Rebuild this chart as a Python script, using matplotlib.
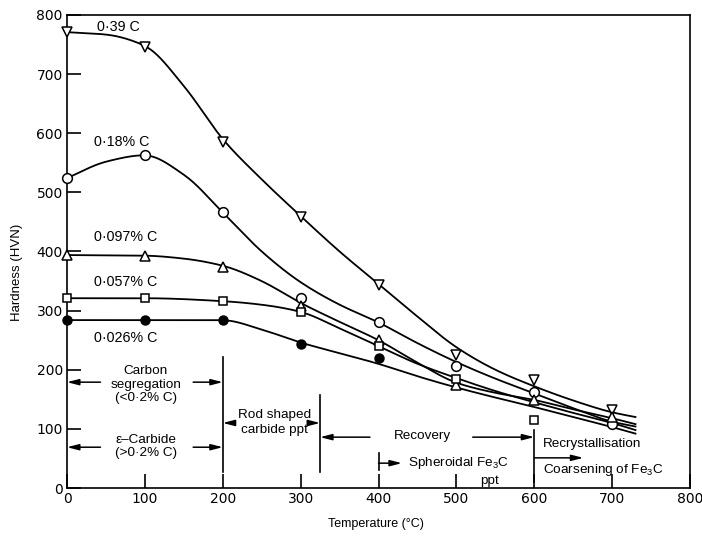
import numpy as np
import matplotlib
matplotlib.use("Agg")
import matplotlib.pyplot as plt

# ---------------- data ----------------
# measured points (markers)
m39_x = [0, 100, 200, 300, 400, 500, 600, 700]
m39_y = [771, 746, 585, 459, 343, 225, 182, 132]
m18_x = [0, 100, 200, 300, 400, 500, 600, 700]
m18_y = [524, 563, 466, 321, 281, 207, 162, 109]
m097_x = [0, 100, 200, 300, 400, 500, 600, 700]
m097_y = [394, 392, 374, 307, 250, 174, 149, 120]
m057_x = [0, 100, 200, 300, 400, 500, 600]
m057_y = [321, 321, 316, 297, 240, 185, 115]
m026_x = [0, 100, 200, 300, 400]
m026_y = [284, 284, 284, 244, 220]

# hand-drawn trend curves
c39_x = [0, 50, 100, 150, 200, 250, 300, 350, 400, 450, 500, 550, 600, 650, 700, 730]
c39_y = [771, 767, 748, 680, 590, 522, 460, 400, 345, 290, 238, 200, 172, 148, 128, 120]
c18_x = [0, 50, 100, 150, 200, 250, 300, 350, 400, 450, 500, 550, 600, 650, 700, 730]
c18_y = [524, 552, 563, 530, 466, 400, 348, 310, 280, 245, 213, 185, 160, 135, 112, 104]
c097_x = [0, 100, 150, 200, 250, 300, 350, 400, 450, 500, 550, 600, 650, 700, 730]
c097_y = [394, 393, 388, 376, 350, 313, 281, 250, 212, 178, 161, 149, 133, 118, 108]
c057_x = [0, 100, 200, 250, 300, 350, 400, 450, 500, 550, 600, 650, 700, 730]
c057_y = [321, 321, 316, 310, 298, 270, 240, 210, 186, 164, 145, 127, 110, 98]
c026_x = [0, 100, 200, 250, 300, 350, 400, 450, 500, 550, 600, 650, 700, 730]
c026_y = [284, 284, 284, 268, 246, 228, 210, 189, 170, 153, 137, 120, 103, 92]

series_labels = ["0·39 C", "0·18% C", "0·097% C", "0·057% C", "0·026% C"]

x_ticks = [0, 100, 200, 300, 400, 500, 600, 700, 800]
y_ticks = [0, 100, 200, 300, 400, 500, 600, 700, 800]


def pchip(xs, ys, n=730):
    """Monotone cubic rendering of a hand-drawn curve (Fritsch-Carlson)."""
    xs = np.asarray(xs, float)
    ys = np.asarray(ys, float)
    h = np.diff(xs)
    d = np.diff(ys) / h
    m = np.zeros_like(ys)
    for k in range(1, len(xs) - 1):
        if d[k - 1] * d[k] <= 0:
            m[k] = 0.0
        else:
            w1 = 2 * h[k] + h[k - 1]
            w2 = h[k] + 2 * h[k - 1]
            m[k] = (w1 + w2) / (w1 / d[k - 1] + w2 / d[k])
    m[0] = d[0]
    m[-1] = d[-1]
    xx = np.linspace(xs[0], xs[-1], n)
    idx = np.clip(np.searchsorted(xs, xx) - 1, 0, len(xs) - 2)
    hh = h[idx]
    t = (xx - xs[idx]) / hh
    h00 = 2 * t**3 - 3 * t**2 + 1
    h10 = t**3 - 2 * t**2 + t
    h01 = -2 * t**3 + 3 * t**2
    h11 = t**3 - t**2
    yy = h00 * ys[idx] + h10 * hh * m[idx] + h01 * ys[idx + 1] + h11 * hh * m[idx + 1]
    return xx, yy


def soften(yy, w=31):
    """Pen-like smoothing of the rendered curve (odd reflection at the ends)."""
    k = w // 2
    left = 2 * yy[0] - yy[1:k + 1][::-1]
    right = 2 * yy[-1] - yy[-k - 1:-1][::-1]
    ext = np.concatenate([left, yy, right])
    ker = np.hanning(w + 2)[1:-1]
    ker /= ker.sum()
    return np.convolve(ext, ker, mode='valid')


plt.rcParams['font.family'] = ['Liberation Sans', 'DejaVu Sans']
plt.rcParams['mathtext.fontset'] = 'custom'
plt.rcParams['mathtext.rm'] = 'Liberation Sans'

fig = plt.figure(figsize=(7.02, 5.37), dpi=100)
ax = fig.add_axes([67 / 702, 1 - 488 / 537, 623 / 702, 473 / 537])

lw = 1.3
for cx, cy in ((c39_x, c39_y), (c18_x, c18_y), (c097_x, c097_y),
               (c057_x, c057_y), (c026_x, c026_y)):
    xx, yy = pchip(cx, cy)
    ax.plot(xx, soften(yy), color='black', lw=lw, zorder=2)

mk = dict(color='black', markerfacecolor='white', markeredgecolor='black',
          markeredgewidth=1.1, linestyle='none', zorder=3, clip_on=False)
ax.plot(m39_x, m39_y, marker='v', markersize=7.5, **mk)
ax.plot(m18_x, m18_y, marker='o', markersize=7, **mk)
ax.plot(m097_x, m097_y, marker='^', markersize=7.5, **mk)
ax.plot(m057_x, m057_y, marker='s', markersize=6, **mk)
ax.plot(m026_x, m026_y, marker='o', markersize=6.5, color='black',
        markerfacecolor='black', linestyle='none', zorder=3, clip_on=False)

# series labels
lab_pos = [(38, 780), (35, 585), (35, 425), (35, 348), (35, 254)]
for (lx, ly), s in zip(lab_pos, series_labels):
    ax.text(lx, ly, s, fontsize=10.3, ha='left', va='center')

# ---------------- process annotations ----------------
fs = 9.7
arr = dict(arrowstyle='-|>,head_length=0.7,head_width=0.18', color='black',
           lw=1.1, shrinkA=0, shrinkB=0)


def arrow(x0, y0, x1, y1):
    ax.annotate('', xy=(x1, y1), xytext=(x0, y0), arrowprops=arr, zorder=4)


# Carbon segregation / epsilon carbide block
ax.text(101, 175, "Carbon\nsegregation\n(<0·2% C)", fontsize=fs, ha='center',
        va='center', linespacing=1.15)
arrow(43, 179, 0, 179)
arrow(162, 179, 200, 179)
ax.text(101, 70, "ε–Carbide\n(>0·2% C)", fontsize=fs, ha='center', va='center',
        linespacing=1.15)
arrow(43, 69, 0, 69)
arrow(162, 69, 200, 69)
ax.plot([200, 200], [27, 221], color='black', lw=1.2)

# Rod shaped carbide ppt
ax.text(266, 111, "Rod shaped\ncarbide ppt", fontsize=fs, ha='center',
        va='center', linespacing=1.3)
arrow(216, 110, 200, 110)
arrow(310, 110, 325, 110)
ax.plot([325, 325], [27, 157], color='black', lw=1.2)

# Recovery
ax.text(457, 88, "Recovery", fontsize=fs, ha='center', va='center')
arrow(389, 86, 325, 86)
arrow(521, 86, 600, 86)

# Spheroidal Fe3C ppt
ax.plot([400, 400], [30, 59], color='black', lw=1.2)
arrow(400, 42, 430, 42)
ax.text(438, 42, r"Spheroidal Fe$_\mathregular{3}$C", fontsize=fs,
        ha='left', va='center')
ax.text(543, 12, "ppt", fontsize=fs, ha='center', va='center')

# Recrystallisation / coarsening
ax.plot([600, 600], [10, 98], color='black', lw=1.2)
ax.text(611, 74, "Recrystallisation", fontsize=fs, ha='left', va='center')
arrow(600, 51, 663, 51)
ax.text(611, 30, r"Coarsening of Fe$_\mathregular{3}$C", fontsize=fs,
        ha='left', va='center')

# ---------------- axes ----------------
ax.set_xlim(0, 800)
ax.set_ylim(0, 800)
ax.set_xticks(x_ticks)
ax.set_yticks(y_ticks)
ax.tick_params(direction='in', length=10, width=1.2, labelsize=10, pad=3)
for lab in ax.get_xticklabels() + ax.get_yticklabels():
    lab.set_family('DejaVu Sans')
for sp in ax.spines.values():
    sp.set_linewidth(1.2)
fig.text(376 / 702, 1 - 524 / 537, "Temperature (°C)", fontsize=9,
         ha='center', va='center')
fig.text(17 / 702, 1 - 272 / 537, "Hardness (HVN)", fontsize=9.5,
         ha='center', va='center', rotation=90)

fig.savefig("out.png", dpi=100)
